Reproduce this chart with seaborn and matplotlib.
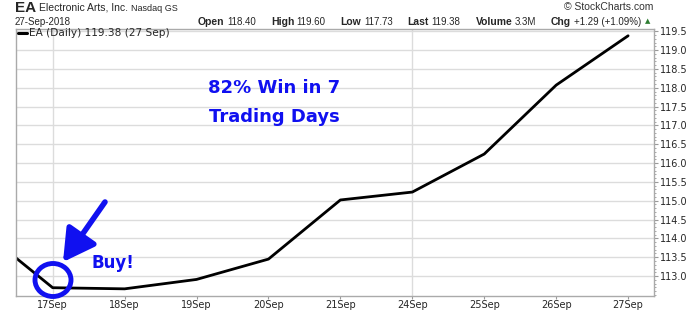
import numpy as np
import pandas as pd
import matplotlib
matplotlib.use("Agg")
import matplotlib.pyplot as plt
from matplotlib.patches import Ellipse
import seaborn as sns

# ---- data ----
dates = ["14Sep", "17Sep", "18Sep", "19Sep", "20Sep", "21Sep", "24Sep", "25Sep", "26Sep", "27Sep"]
close = [114.24, 112.69, 112.66, 112.91, 113.45, 115.02, 115.23, 116.24, 118.07, 119.38]
tick_labels = ["17Sep", "18Sep", "19Sep", "20Sep", "21Sep", "24Sep", "25Sep", "26Sep", "27Sep"]
y_ticks = [113.0, 113.5, 114.0, 114.5, 115.0, 115.5, 116.0, 116.5, 117.0, 117.5, 118.0, 118.5, 119.0, 119.5]
quote_labels = ["Open", "High", "Low", "Last", "Volume", "Chg"]
quote_values = ["118.40", "119.60", "117.73", "119.38", "3.3M", "+1.29 (+1.09%)"]

df = pd.DataFrame({"idx": np.arange(len(dates)) - 1, "date": dates, "close": close})

sns.set_theme(style="white")
plt.rcParams["font.family"] = ["DejaVu Sans"]

W, H = 700, 312
fig = plt.figure(figsize=(W / 100, H / 100), dpi=100)
ax = fig.add_axes([16 / W, 1 - 296 / H, (654 - 16) / W, (296 - 29) / H])

sns.lineplot(data=df, x="idx", y="close", color="black", lw=2, ax=ax, legend=False)

ax.set_xlim(-0.51, 8.36)
ax.set_ylim(112.47, 119.56)

# grid
for yv in y_ticks:
    ax.axhline(yv, color="#dcdcdc", lw=1, zorder=0)
for xv in [0, 5]:
    ax.axvline(xv, color="#dcdcdc", lw=1, zorder=0)

ax.set_xticks(range(len(tick_labels)))
ax.set_xticklabels(tick_labels, fontsize=7)
ax.yaxis.tick_right()
ax.set_yticks(y_ticks)
ax.set_yticklabels([f"{v:.1f}" for v in y_ticks], fontsize=7)
ax.set_yticks(np.arange(112.5, 119.56, 0.1), minor=True)
ax.tick_params(axis="y", which="major", length=3, width=0.8, color="#999999", pad=1.5, right=True, left=False)
ax.tick_params(axis="y", which="minor", length=1.5, width=0.6, color="#999999", right=True)
ax.tick_params(axis="x", length=2, width=0.8, color="#999999", pad=1, bottom=True)
ax.set_xlabel("")
ax.set_ylabel("")
for s in ax.spines.values():
    s.set_color("#aaaaaa")
    s.set_linewidth(1)


def px(x, y):
    return (x, H - y)


# legend-like label
fig.add_artist(plt.Line2D([18 / W, 27 / W], [1 - 33 / H, 1 - 33 / H], color="black", lw=2.2))
fig.text(29 / W, 1 - 33 / H, "EA (Daily) 119.38 (27 Sep)", fontsize=7.6, va="center", ha="left")

# annotations
blue = "#1010f0"
ax.text(*px(274, 88), "82% Win in 7", transform=None, fontsize=13, color=blue, fontweight="bold", ha="center", va="center")
ax.text(*px(274, 117), "Trading Days", transform=None, fontsize=13, color=blue, fontweight="bold", ha="center", va="center")
ax.text(*px(113, 263), "Buy!", transform=None, fontsize=12, color=blue, fontweight="bold", ha="center", va="center")
x0, y0 = px(105, 202)
x1, y1 = px(63, 262)
ax.annotate("", xy=(x1, y1), xycoords="figure pixels", xytext=(x0, y0), textcoords="figure pixels",
            arrowprops=dict(arrowstyle="-|>,head_length=1.6,head_width=0.9", color=blue, lw=4, shrinkA=0, shrinkB=0))
cx, cy = px(53, 280)
circ = Ellipse((cx, cy), 36, 33, transform=None, fill=False, edgecolor=blue, lw=3.5, clip_on=False, zorder=5)
fig.add_artist(circ)

# header
HF = ["Liberation Sans", "DejaVu Sans"]
renderer = fig.canvas.get_renderer()


def ft(x, y, s, **kw):
    return fig.text(x / W, 1 - y / H, s, va="center", ha="left", family=HF, **kw)


def width(t):
    return t.get_window_extent(renderer=renderer).width


t_ea = ft(15, 8, "EA", fontsize=11, fontweight="bold")
xcur = 15 + width(t_ea) + 3
t_co = ft(xcur, 8, "Electronic Arts, Inc.", fontsize=7.5)
xcur += width(t_co) + 3
ft(xcur, 8.5, "Nasdaq GS", fontsize=6.5)
ft(15, 22, "27-Sep-2018", fontsize=7)

# quote line: chain segments between x=198 and x=641
segs = []
for lab, val in zip(quote_labels, quote_values):
    segs.append(ft(0, 22, lab, fontsize=7.5, fontweight="bold"))
    segs.append(ft(0, 22, val, fontsize=7))
widths = [width(t) for t in segs]
start, end = 198, 641
gap_small = 2.5
total_words = sum(widths) + gap_small * len(quote_labels)
gap_big = (end - start - total_words) / (len(quote_labels) - 1)
xcur = start
for i, t in enumerate(segs):
    t.set_x(xcur / W)
    xcur += widths[i]
    xcur += gap_small if i % 2 == 0 else gap_big
fig.text(645 / W, 1 - 21.5 / H, "\u25B2", fontsize=5, color="#2e7d32", va="center", ha="left")
fig.text(653 / W, 1 - 7 / H, "\u00A9 StockCharts.com", fontsize=7.5, ha="right", va="center", color="#333333", family=HF)

fig.savefig("out.png", dpi=100)
